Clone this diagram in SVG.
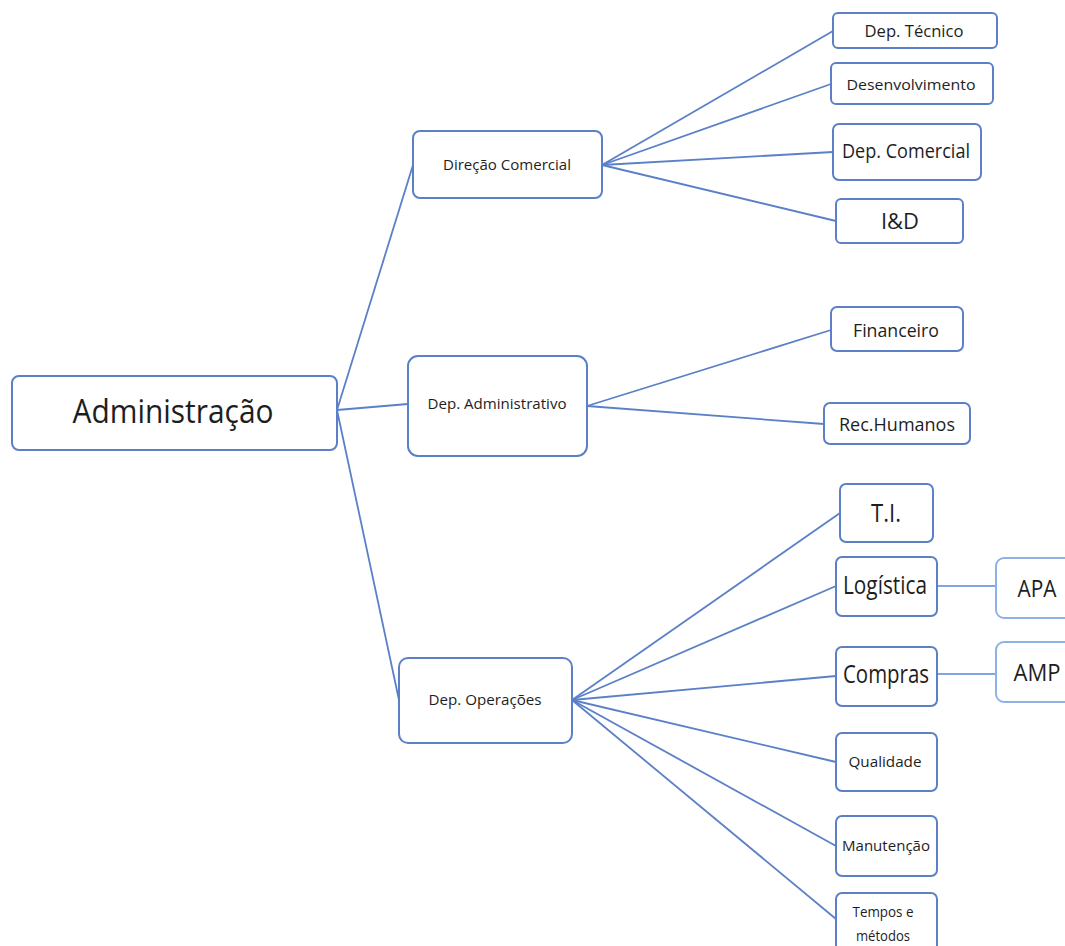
<svg xmlns="http://www.w3.org/2000/svg" width="1065" height="946" viewBox="0 0 1065 946">
  <style>
    .box { fill: #ffffff; stroke: #5b80c8; stroke-width: 2; }
    .box2 { fill: #ffffff; stroke: #8fb2e6; stroke-width: 2; }
    .link { stroke: #5b80c8; stroke-width: 1.8; fill: none; }
    .link2 { stroke: #7fa6e0; stroke-width: 1.8; fill: none; }
    text { font-family: "Open Sans", "Noto Sans", "DejaVu Sans", sans-serif; fill: #1e1e1e; text-anchor: middle; }
  </style>
  <rect width="1065" height="946" fill="#ffffff"/>

  <g id="connectors">
    <line class="link" x1="337" y1="410" x2="413" y2="165"/>
    <line class="link" x1="337" y1="410" x2="408" y2="404"/>
    <line class="link" x1="337" y1="410" x2="399" y2="700"/>

    <line class="link" x1="602" y1="165" x2="833" y2="31"/>
    <line class="link" x1="602" y1="165" x2="831" y2="84"/>
    <line class="link" x1="602" y1="165" x2="833" y2="152"/>
    <line class="link" x1="602" y1="165" x2="836" y2="221"/>

    <line class="link" x1="587" y1="406" x2="831" y2="330"/>
    <line class="link" x1="587" y1="406" x2="824" y2="424"/>

    <line class="link" x1="572" y1="700" x2="840" y2="513"/>
    <line class="link" x1="572" y1="700" x2="836" y2="586"/>
    <line class="link" x1="572" y1="700" x2="836" y2="676"/>
    <line class="link" x1="572" y1="700" x2="836" y2="762"/>
    <line class="link" x1="572" y1="700" x2="836" y2="846"/>
    <line class="link" x1="572" y1="700" x2="836" y2="919"/>

    <line class="link2" x1="937" y1="586" x2="996" y2="586"/>
    <line class="link2" x1="937" y1="674" x2="996" y2="674"/>
  </g>

  <g id="administracao">
    <rect class="box" x="12" y="376" width="325" height="74" rx="7"/>
    <text x="173" y="423" font-size="32" textLength="201" lengthAdjust="spacingAndGlyphs">Administração</text>
  </g>

  <g id="direcao-comercial">
    <rect class="box" x="413" y="131" width="189" height="67" rx="7"/>
    <text x="507" y="170" font-size="14.5" textLength="128" lengthAdjust="spacingAndGlyphs">Direção Comercial</text>
  </g>

  <g id="dep-administrativo">
    <rect class="box" x="408" y="356" width="179" height="100" rx="10"/>
    <text x="497" y="409" font-size="14.5" textLength="139" lengthAdjust="spacingAndGlyphs">Dep. Administrativo</text>
  </g>

  <g id="dep-operacoes">
    <rect class="box" x="399" y="658" width="173" height="85" rx="9"/>
    <text x="485" y="705" font-size="14.5" textLength="113" lengthAdjust="spacingAndGlyphs">Dep. Operações</text>
  </g>

  <g id="dep-tecnico">
    <rect class="box" x="833" y="13" width="164" height="35" rx="5"/>
    <text x="914" y="37" font-size="16" textLength="99" lengthAdjust="spacingAndGlyphs">Dep. Técnico</text>
  </g>

  <g id="desenvolvimento">
    <rect class="box" x="831" y="63" width="162" height="41" rx="5"/>
    <text x="911" y="90" font-size="14.5" textLength="129" lengthAdjust="spacingAndGlyphs">Desenvolvimento</text>
  </g>

  <g id="dep-comercial">
    <rect class="box" x="833" y="124" width="148" height="56" rx="6"/>
    <text x="906" y="158" font-size="20.5" textLength="128" lengthAdjust="spacingAndGlyphs">Dep. Comercial</text>
  </g>

  <g id="i-d">
    <rect class="box" x="836" y="199" width="127" height="44" rx="5"/>
    <text x="900" y="229" font-size="22" textLength="38" lengthAdjust="spacingAndGlyphs">I&amp;D</text>
  </g>

  <g id="financeiro">
    <rect class="box" x="831" y="307" width="132" height="44" rx="6"/>
    <text x="896" y="337" font-size="19" textLength="86" lengthAdjust="spacingAndGlyphs">Financeiro</text>
  </g>

  <g id="rec-humanos">
    <rect class="box" x="824" y="403" width="146" height="41" rx="6"/>
    <text x="897" y="431" font-size="19" textLength="116" lengthAdjust="spacingAndGlyphs">Rec.Humanos</text>
  </g>

  <g id="ti">
    <rect class="box" x="840" y="484" width="93" height="58" rx="6"/>
    <text x="886" y="522" font-size="25" textLength="30" lengthAdjust="spacingAndGlyphs">T.I.</text>
  </g>

  <g id="logistica">
    <rect class="box" x="836" y="557" width="101" height="59" rx="6"/>
    <text x="885" y="594" font-size="25" textLength="84" lengthAdjust="spacingAndGlyphs">Logística</text>
  </g>

  <g id="apa">
    <rect class="box2" x="996" y="558" width="90" height="60" rx="8"/>
    <text x="1037" y="597" font-size="24" textLength="39" lengthAdjust="spacingAndGlyphs">APA</text>
  </g>

  <g id="compras">
    <rect class="box" x="836" y="647" width="101" height="59" rx="6"/>
    <text x="886" y="683" font-size="25" textLength="86" lengthAdjust="spacingAndGlyphs">Compras</text>
  </g>

  <g id="amp">
    <rect class="box2" x="996" y="642" width="90" height="60" rx="8"/>
    <text x="1037" y="681" font-size="24" textLength="47" lengthAdjust="spacingAndGlyphs">AMP</text>
  </g>

  <g id="qualidade">
    <rect class="box" x="836" y="733" width="101" height="58" rx="6"/>
    <text x="885" y="767" font-size="14.5" textLength="73" lengthAdjust="spacingAndGlyphs">Qualidade</text>
  </g>

  <g id="manutencao">
    <rect class="box" x="836" y="816" width="101" height="60" rx="6"/>
    <text x="886" y="851" font-size="14.5" textLength="88" lengthAdjust="spacingAndGlyphs">Manutenção</text>
  </g>

  <g id="tempos-metodos">
    <rect class="box" x="836" y="893" width="101" height="70" rx="6"/>
    <text x="883" y="917" font-size="14.5" textLength="61" lengthAdjust="spacingAndGlyphs">Tempos e</text>
    <text x="883" y="941" font-size="14.5" textLength="54" lengthAdjust="spacingAndGlyphs">métodos</text>
  </g>
</svg>
